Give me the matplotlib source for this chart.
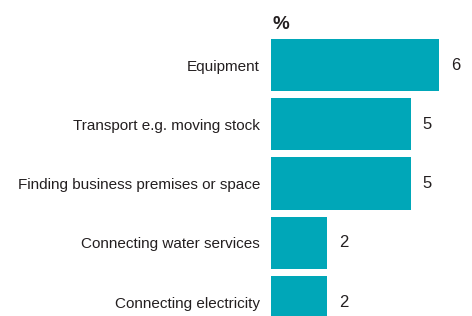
import matplotlib
matplotlib.use("Agg")
import matplotlib.pyplot as plt

categories = ["Equipment", "Transport e.g. moving stock", "Finding business premises or space",
              "Connecting water services", "Connecting electricity"]
values = [6, 5, 5, 2, 2]
unit_label = "%"

plt.rcParams['font.family'] = ['Liberation Sans', 'DejaVu Sans']
bar_color = "#00A7B8"
text_color = "#231F20"

fig = plt.figure(figsize=(4.72, 3.16), dpi=100)
ax = fig.add_axes([271 / 472, 0, 1 - 271 / 472, 1])

y = list(range(len(categories)))
ax.barh(y, values, height=0.88, color=bar_color)
for yi, v in zip(y, values):
    ax.text(v + 0.42, yi, str(v), va="center", ha="left", fontsize=12, color=text_color)

ax.set_xlim(0, 201 / 28)
ax.set_ylim(4.236, -1.097)
ax.set_yticks(y)
ax.set_yticklabels(categories, fontsize=11.0, color=text_color)
ax.tick_params(axis="y", length=0, pad=8)
ax.set_xticks([])
for s in ax.spines.values():
    s.set_visible(False)

ax.text(0.06, -0.69, unit_label, fontsize=13.5, fontweight="bold", color=text_color,
        va="center", ha="left")

fig.savefig("out.png", dpi=100)
